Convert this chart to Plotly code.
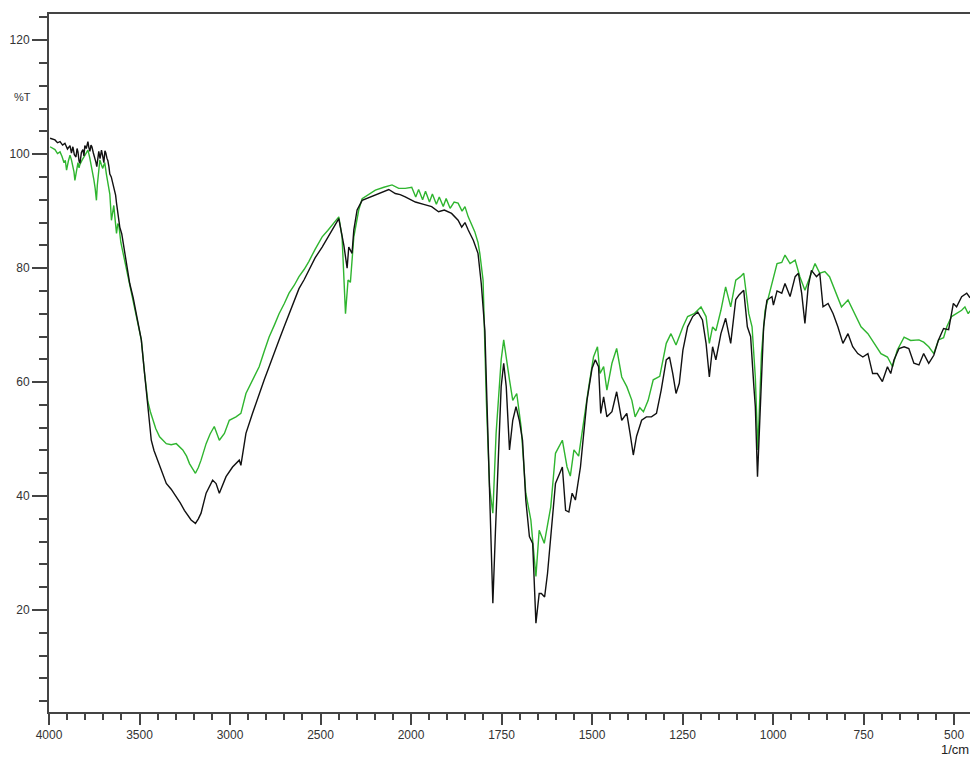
import plotly.graph_objects as go

# ---- data (wavenumber in 1/cm, transmittance in %T) ----
black_wn = [3994, 3980, 3967, 3953, 3939, 3925, 3912, 3898, 3884, 3876, 3868, 3860, 3851, 3845, 3840,
            3834, 3829, 3821, 3813, 3807, 3802, 3794, 3785, 3780, 3774, 3768, 3763, 3755,
            3747, 3741, 3736, 3730, 3725, 3718, 3710, 3703, 3697, 3691, 3686, 3680, 3675, 3669,
            3664, 3656, 3648, 3643, 3637, 3632, 3627, 3620, 3614, 3609, 3598,
            3582, 3565, 3554, 3535, 3517, 3490, 3472, 3454, 3435, 3420, 3407, 3380, 3352, 3325, 3297, 3275,
            3252, 3232, 3215, 3191, 3175, 3160, 3132, 3096, 3077, 3059, 3040, 3022, 2986, 2949, 2940,
            2912, 2876, 2839, 2810, 2784, 2755, 2729, 2700, 2674, 2645, 2619, 2590, 2564, 2530,
            2491, 2460, 2436, 2399, 2371, 2353, 2344, 2326, 2316, 2298, 2270,
            2230, 2197, 2160, 2123, 2087, 2060, 2032,
            1988, 1965, 1943, 1924, 1908, 1888, 1870, 1860, 1851, 1842, 1837, 1828, 1815, 1806,
            1796, 1787, 1780, 1774, 1767, 1760, 1751, 1744, 1737, 1728, 1719, 1710, 1701, 1692,
            1683, 1673, 1664, 1655, 1646, 1640, 1631, 1623, 1614, 1601, 1582, 1573, 1564, 1555,
            1546, 1532, 1523, 1514, 1500, 1491, 1482, 1476, 1468, 1459, 1445, 1432, 1418, 1404,
            1395, 1386, 1377, 1363, 1350, 1336, 1322, 1309, 1295, 1286, 1277, 1268, 1259, 1249,
            1236, 1222, 1208, 1195, 1185, 1176, 1167, 1158, 1144, 1131, 1117, 1103, 1094, 1081,
            1071, 1062, 1053, 1049, 1043, 1035, 1026, 1017, 1003, 999, 989, 976, 967, 953, 939,
            930, 921, 912, 903, 894, 880, 871, 862, 848, 834, 821, 807, 793, 780, 766, 752, 738,
            725, 712, 698, 684, 675, 666, 652, 638, 625, 611, 597, 584, 570, 556, 543, 529, 515,
            502, 493, 479, 465, 456]
black_t = [102.8, 102.6, 102.5, 102.0, 102.2, 101.6, 101.9, 100.9, 101.5, 100.2, 101.3, 99.9, 99.5, 101.0, 100.4,
           98.8, 98.4, 100.3, 100.8, 99.7, 101.5, 101.0, 102.2, 101.2, 100.5, 101.6, 101.3, 100.2,
           99.5, 98.6, 97.8, 99.6, 100.5, 99.2, 100.7, 99.6, 98.5, 100.6, 100.2, 99.3, 98.9, 97.8,
           96.5, 96.0, 94.9, 94.2, 93.0, 92.8, 91.4, 89.8, 88.5, 87.2, 86.0,
           82.8, 79.1, 77.3, 74.8, 72.0, 67.4, 61.5, 55.7, 49.8, 48.0, 46.9, 44.6, 42.2, 41.2, 39.9, 38.8,
           37.5, 36.5, 35.8, 35.2, 36.0, 37.0, 40.5, 42.8, 42.2, 40.5, 42.0, 43.4, 45.1, 46.3, 45.4,
           51.0, 54.5, 58.0, 60.5, 62.7, 65.0, 67.4, 69.8, 72.0, 74.3, 76.4, 78.0, 79.6, 81.8,
           83.7, 85.4, 86.7, 88.7, 84.0, 80.0, 83.7, 82.6, 86.7, 90.2, 91.9,
           92.4, 92.8, 93.3, 93.8, 93.1, 92.9, 92.5,
           91.6, 91.2, 90.8, 89.9, 90.2, 89.6, 88.4, 87.2, 88.0, 86.7, 86.1, 84.9, 82.6, 77.3,
           69.0, 48.1, 33.5, 21.2, 33.5, 45.1, 59.2, 63.3, 59.2, 48.1, 53.3, 55.7, 53.3, 49.8,
           39.3, 32.9, 31.7, 17.7, 22.9, 22.9, 22.3, 26.4, 33.5, 42.2, 45.1, 37.5, 37.2, 40.5,
           39.3, 45.1, 51.0, 56.8, 62.4, 63.9, 62.7, 54.5, 57.4, 53.9, 54.8, 58.3, 53.3, 54.5,
           51.0, 47.2, 50.5, 53.3, 53.9, 53.9, 54.5, 58.6, 63.9, 64.4, 61.5, 58.0, 59.8, 65.6,
           69.7, 71.5, 72.3, 70.9, 66.8, 60.9, 66.2, 63.9, 68.5, 71.2, 66.8, 74.5, 75.3, 76.1,
           69.7, 68.0, 59.2, 55.7, 43.4, 56.0, 69.7, 74.4, 75.0, 73.5, 76.0, 75.6, 77.3, 75.0, 78.5,
           79.1, 75.6, 70.3, 76.7, 79.6, 78.5, 79.1, 73.2, 73.8, 72.0, 69.7, 66.8, 68.5, 66.2, 65.0, 64.4, 65.0,
           61.5, 61.5, 60.1, 62.7, 61.5, 63.9, 65.9, 66.2, 65.9, 63.3, 63.0, 65.0, 63.3, 64.7, 67.4, 69.4, 69.2,
           73.8, 73.2, 75.0, 75.6, 74.8]

green_wn = [3994, 3980, 3967, 3953, 3939, 3928, 3917, 3910, 3903, 3893, 3884, 3876, 3868, 3862, 3857,
            3848, 3840, 3834, 3829, 3818, 3807, 3796, 3785, 3775, 3765, 3758, 3752,
            3745, 3738, 3733, 3728, 3719, 3711, 3703, 3698, 3692, 3683, 3674, 3664, 3655, 3648, 3642,
            3635, 3627, 3620, 3614, 3603, 3582, 3565,
            3554, 3535, 3517, 3490, 3472, 3454, 3440, 3426, 3410, 3389, 3370, 3352, 3325, 3297, 3261, 3240,
            3224, 3191, 3175, 3160, 3132, 3110, 3087, 3059, 3031, 3004, 2967, 2940,
            2912, 2876, 2839, 2810, 2784, 2755, 2729, 2700, 2674, 2645, 2619, 2590, 2564, 2530,
            2491, 2460, 2436, 2399, 2381, 2362, 2348, 2335, 2316, 2289, 2270, 2230, 2197, 2150, 2105, 2068, 2032,
            1998, 1987, 1979, 1968, 1960, 1949, 1941, 1930, 1922, 1911, 1903, 1892, 1881, 1870,
            1859, 1851, 1842, 1833, 1824, 1815, 1810, 1801, 1792, 1783, 1774, 1765, 1751, 1744,
            1735, 1728, 1719, 1708, 1696, 1683, 1669, 1655, 1646, 1632, 1614, 1601, 1582, 1569,
            1560, 1550, 1537, 1523, 1509, 1496, 1485, 1478, 1468, 1459, 1445, 1432, 1418, 1404,
            1390, 1381, 1368, 1358, 1345, 1331, 1313, 1295, 1282, 1268, 1249, 1236, 1218, 1199,
            1185, 1176, 1167, 1158, 1144, 1131, 1117, 1103, 1090, 1081, 1067, 1058, 1049, 1042,
            1032, 1022, 1003, 989, 976, 967, 953, 939, 926, 912, 898, 884, 871, 857, 844, 830,
            811, 793, 775, 757, 738, 720, 702, 684, 670, 657, 638, 620, 597, 584, 570, 556, 543,
            529, 520, 507, 493, 479, 470, 461, 456]
green_t = [101.3, 101.0, 100.8, 100.1, 100.4, 99.6, 98.5, 98.9, 97.2, 98.8, 99.8, 99.0, 98.0, 96.9, 95.4,
           97.4, 98.5, 97.6, 98.2, 98.9, 99.5, 99.9, 100.7, 99.4, 97.8, 96.8, 95.5,
           94.0, 91.9, 94.6, 96.5, 99.0, 98.2, 97.5, 98.0, 98.5, 96.5, 94.9, 93.0, 88.4, 90.0, 91.0,
           88.6, 86.1, 87.8, 87.5, 84.5, 81.4, 79.1,
           77.3, 74.6, 72.0, 67.4, 61.5, 56.6, 54.8, 53.3, 51.8, 50.4, 49.7, 49.2, 49.0, 49.2, 48.1, 47.0,
           45.7, 44.0, 45.0, 46.3, 49.2, 50.9, 52.2, 49.8, 51.0, 53.3, 53.9, 54.5,
           58.0, 60.4, 62.7, 65.5, 67.9, 70.0, 72.0, 73.8, 75.6, 77.0, 78.5, 79.8, 81.2, 83.3,
           85.5, 86.6, 87.5, 89.0, 85.5, 72.0, 77.9, 77.5, 85.5, 90.2, 92.2, 93.0, 93.7, 94.2, 94.6, 94.0, 94.0,
           94.2, 92.5, 93.8, 92.0, 93.5, 91.6, 93.0, 91.2, 92.5, 90.8, 92.2, 90.5, 91.6, 91.4,
           90.0, 90.8, 89.0, 87.8, 86.4, 84.5, 82.6, 77.9, 56.8, 41.6, 37.0, 51.0, 63.9, 67.4,
           63.9, 60.4, 56.8, 58.0, 52.2, 40.5, 35.8, 25.9, 34.0, 31.7, 38.1, 47.5, 49.8, 45.1,
           43.5, 48.1, 47.0, 53.3, 59.2, 64.4, 66.2, 61.5, 62.7, 58.6, 63.3, 65.9, 60.9, 59.2,
           56.8, 53.9, 55.5, 54.8, 56.8, 60.4, 61.0, 66.8, 68.5, 66.5, 69.7, 71.5, 72.0, 73.2,
           71.5, 66.8, 69.7, 69.0, 72.6, 76.7, 73.2, 77.9, 78.5, 79.1, 72.0, 69.7, 60.9, 48.1,
           65.0, 72.6, 77.6, 80.8, 81.0, 82.3, 80.8, 81.4, 78.5, 76.1, 78.5, 80.8, 79.1, 79.4, 78.5, 76.1,
           73.2, 74.4, 72.0, 69.7, 68.5, 66.8, 65.0, 64.4, 62.7, 65.6, 67.9, 67.3, 67.4, 67.0, 66.2, 65.0, 67.4,
           67.8, 69.7, 71.5, 72.0, 72.6, 73.2, 72.0, 72.5]

major_ticks = [4000, 3500, 3000, 2500, 2000, 1750, 1500, 1250, 1000, 750, 500]
y_ticks = [20, 40, 60, 80, 100, 120]


# Spectrometer-style split abscissa: 4000-2000 at half the scale of 2000-400
def axis_pos(wn):
    return (4000 - wn) / 2.0 if wn >= 2000 else 1000 + (2000 - wn)


fig = go.Figure()
fig.add_trace(go.Scatter(x=[axis_pos(w) for w in green_wn], y=green_t, mode="lines",
                         line=dict(color="#2fb52f", width=1.4), showlegend=False))
fig.add_trace(go.Scatter(x=[axis_pos(w) for w in black_wn], y=black_t, mode="lines",
                         line=dict(color="#111111", width=1.4), showlegend=False))

axis_font = dict(family="Liberation Sans, Arial, sans-serif", size=12, color="#333333")

# page body has an 8px margin; figure sized so nothing is clipped at the window edges
fig.update_layout(
    width=962, height=750,
    margin=dict(l=41, r=0, t=6, b=46),
    paper_bgcolor="white", plot_bgcolor="white",
    xaxis=dict(
        range=[0, axis_pos(456)],
        tickmode="array",
        tickvals=[axis_pos(w) for w in major_ticks],
        ticktext=[str(w) for w in major_ticks],
        ticks="outside", ticklen=11, tickwidth=1.5, tickcolor="#444444",
        minor=dict(dtick=50, tick0=0, ticks="outside", ticklen=6, tickwidth=1.5, tickcolor="#444444"),
        showline=True, linecolor="#444444", linewidth=2, mirror=True,
        showgrid=False, zeroline=False, tickfont=axis_font,
    ),
    yaxis=dict(
        range=[2.1, 124.6],
        tickmode="array",
        tickvals=y_ticks,
        ticks="outside", ticklen=15, tickwidth=1.5, tickcolor="#444444",
        minor=dict(dtick=4, tick0=0, ticks="outside", ticklen=8, tickwidth=1.5, tickcolor="#444444"),
        showline=True, linecolor="#444444", linewidth=2, mirror=False,
        showgrid=False, zeroline=False, tickfont=axis_font,
    ),
    annotations=[
        dict(text="%T", xref="paper", yref="paper", x=-0.029, y=0.881, xanchor="center",
             yanchor="middle", showarrow=False, font=dict(family="Liberation Sans, Arial", size=11, color="#333333")),
        dict(text="1/cm", xref="paper", yref="paper", x=1.0, y=-0.0659, xanchor="right",
             yanchor="bottom", showarrow=False, borderpad=0,
             font=dict(family="Liberation Sans, Arial", size=13, color="#222222")),
    ],
)

fig.write_html("out.html")
